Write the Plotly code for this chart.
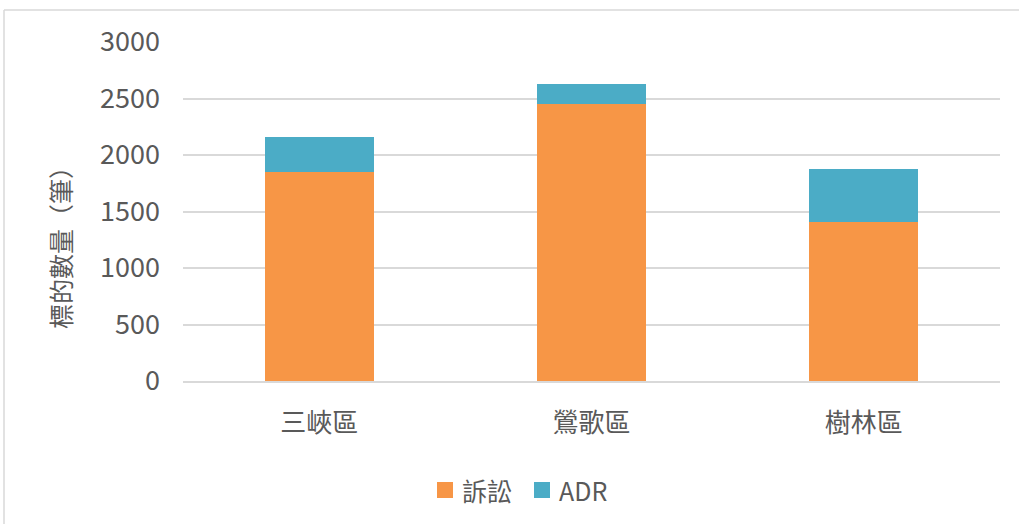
import plotly.graph_objects as go

# Case counts by district: litigation vs. ADR
districts = ["三峽區", "鶯歌區", "樹林區"]
litigation = [1850, 2450, 1410]
adr = [305, 178, 469]
y_ticks = [0, 500, 1000, 1500, 2000, 2500, 3000]
series_names = ["訴訟", "ADR"]
series_colors = ["#F79646", "#4BACC6"]

FONT = "Noto Sans CJK TC, Noto Sans, sans-serif"
TEXT_COLOR = "#595959"
GRID_COLOR = "#d9d9d9"

fig = go.Figure()
for name, vals, color in zip(series_names, [litigation, adr], series_colors):
    fig.add_trace(go.Bar(name=name, x=districts, y=vals, showlegend=False,
                         marker=dict(color=color, line=dict(width=0))))

L, R, T, B = 183, 19, 42, 143
W, H = 1019, 524
pw, ph = W - L - R, H - T - B


def px_x(v):
    return (v - L) / pw


def px_y(v):
    return (H - B - v) / ph


shapes = [
    dict(type="line", xref="paper", yref="paper",
         x0=px_x(4), x1=px_x(1030), y0=px_y(10), y1=px_y(10),
         line=dict(color=GRID_COLOR, width=1.5)),
    dict(type="line", xref="paper", yref="paper",
         x0=px_x(4), x1=px_x(4), y0=px_y(10), y1=px_y(540),
         line=dict(color=GRID_COLOR, width=1.5)),
]
annotations = [dict(text="標的數量（筆）", xref="paper", yref="paper",
                    x=px_x(60), y=px_y(242), textangle=-90,
                    showarrow=False, xanchor="center", yanchor="middle",
                    font=dict(size=25, color=TEXT_COLOR, family=FONT))]

# Legend drawn as colour swatches with labels below the chart
legend_x = [437, 534]
for name, color, lx in zip(series_names, series_colors, legend_x):
    shapes.append(dict(type="rect", xref="paper", yref="paper",
                       x0=px_x(lx), x1=px_x(lx + 16), y0=px_y(498), y1=px_y(482),
                       fillcolor=color, line=dict(width=0)))
    annotations.append(dict(text=name, xref="paper", yref="paper",
                            x=px_x(lx + 23), y=px_y(490), showarrow=False,
                            xanchor="left", yanchor="middle",
                            font=dict(size=25, color=TEXT_COLOR, family=FONT)))

fig.update_layout(
    barmode="stack",
    bargap=0.6,
    width=W, height=H,
    margin=dict(l=L, r=R, t=T, b=B),
    paper_bgcolor="white",
    plot_bgcolor="white",
    font=dict(family=FONT, size=26, color=TEXT_COLOR),
    showlegend=False,
    xaxis=dict(showgrid=False, showline=True, linecolor=GRID_COLOR, linewidth=1.5,
               ticks="", tickfont=dict(size=26, color=TEXT_COLOR),
               ticklabelstandoff=18),
    yaxis=dict(range=[0, 3000], tickvals=y_ticks, showgrid=True,
               gridcolor=GRID_COLOR, gridwidth=1.5, zeroline=False,
               showline=False, ticks="",
               tickfont=dict(size=27, color=TEXT_COLOR),
               ticklabelstandoff=22),
    annotations=annotations,
    shapes=shapes,
)

fig.write_html("out.html")
